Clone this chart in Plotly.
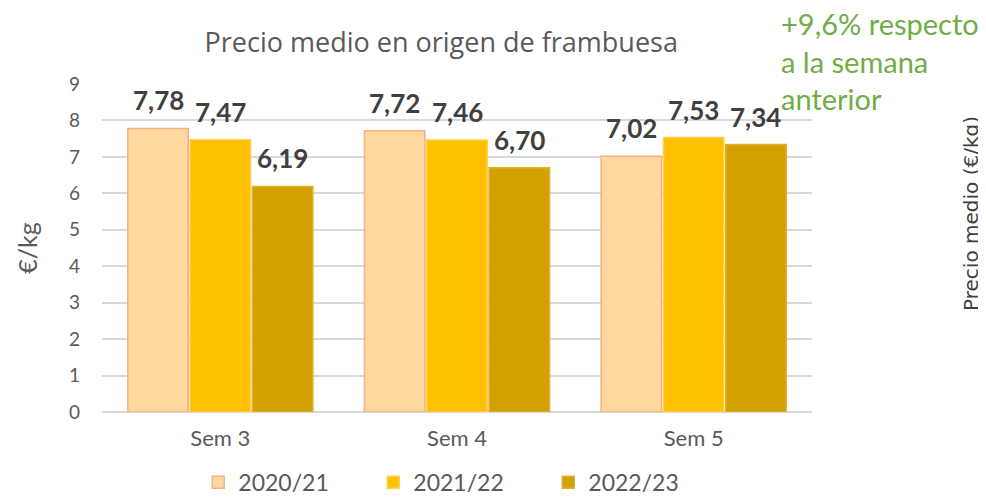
import plotly.graph_objects as go

semanas = ["Sem 3", "Sem 4", "Sem 5"]
campanas = ["2020/21", "2021/22", "2022/23"]
precios = {
    "2020/21": [7.78, 7.72, 7.02],
    "2021/22": [7.47, 7.46, 7.53],
    "2022/23": [6.19, 6.70, 7.34],
}
y_ticks = list(range(0, 10))

colores = {
    "2020/21": ("#FFD8A0", "#F4B183"),
    "2021/22": ("#FFC000", "#FFD24D"),
    "2022/23": ("#D3A000", "#DDB233"),
}

# page body has an 8px margin, so the figure is a bit smaller than the window
W, H = 978, 489
ml, mr, mt, mb = 94, 174, 76, 85
bargap = 0.21

fig = go.Figure()

for c in campanas:
    fill, borde = colores[c]
    fig.add_trace(go.Bar(
        x=semanas,
        y=precios[c],
        name=c,
        marker=dict(color=fill, line=dict(color=borde, width=1.5)),
    ))

# value labels sit a bit higher than plotly's "outside" text, so use annotations
slot = (W - ml - mr) / len(semanas) * (1 - bargap) / len(campanas)
for k, c in enumerate(campanas):
    for s, v in zip(semanas, precios[c]):
        fig.add_annotation(
            x=s, y=v, xref="x", yref="y",
            text=f"{v:.2f}".replace(".", ","),
            showarrow=False,
            xshift=(k - 1) * slot,
            yshift=28,
            yanchor="middle",
            font=dict(family="Lato", size=26, color="#404040", weight="bold"),
        )

fig.update_layout(
    width=W,
    height=H,
    margin=dict(l=ml, r=mr, t=mt, b=mb, autoexpand=False),
    plot_bgcolor="white",
    paper_bgcolor="white",
    barmode="group",
    bargap=bargap,
    bargroupgap=0.03,
    font=dict(family="Lato", color="#595959"),
    title=dict(
        text="Precio medio en origen de frambuesa",
        xref="container", x=0.443, xanchor="center",
        yref="container", y=0.93, yanchor="middle",
        font=dict(family="Open Sans", size=27, color="#595959"),
    ),
    xaxis=dict(
        showgrid=False,
        showline=False,
        ticks="",
        automargin=False,
        tickfont=dict(size=22, color="#595959"),
        ticklabelstandoff=11,
    ),
    yaxis=dict(
        range=[0, 9],
        tickvals=y_ticks,
        showgrid=True,
        gridcolor="#D9D9D9",
        gridwidth=1.5,
        zeroline=True,
        zerolinecolor="#D9D9D9",
        zerolinewidth=1.5,
        automargin=False,
        tickfont=dict(size=19, color="#595959"),
        ticklabelstandoff=21,
        title=dict(text="€/kg", font=dict(size=25, color="#595959"), standoff=24),
    ),
    legend=dict(
        orientation="h",
        xref="container", x=0.463, xanchor="center",
        yref="container", y=0.03, yanchor="middle",
        font=dict(size=23, color="#595959"),
        itemwidth=30,
        entrywidth=130,
    ),
)

fig.add_annotation(
    text="+9,6% respecto<br>a la semana<br>anterior",
    xref="paper", yref="paper",
    x=0.954, y=1.07, xanchor="left", yanchor="middle",
    align="left", showarrow=False,
    font=dict(family="Lato", size=29, color="#70AD47"),
)

fig.add_annotation(
    text="Precio medio (€/kg)",
    xref="paper", yref="paper",
    x=1.224, y=0.604, xanchor="center", yanchor="middle",
    textangle=-90, showarrow=False,
    font=dict(family="DejaVu Sans", size=20, color="#404040"),
)

fig.write_html("out.html")
